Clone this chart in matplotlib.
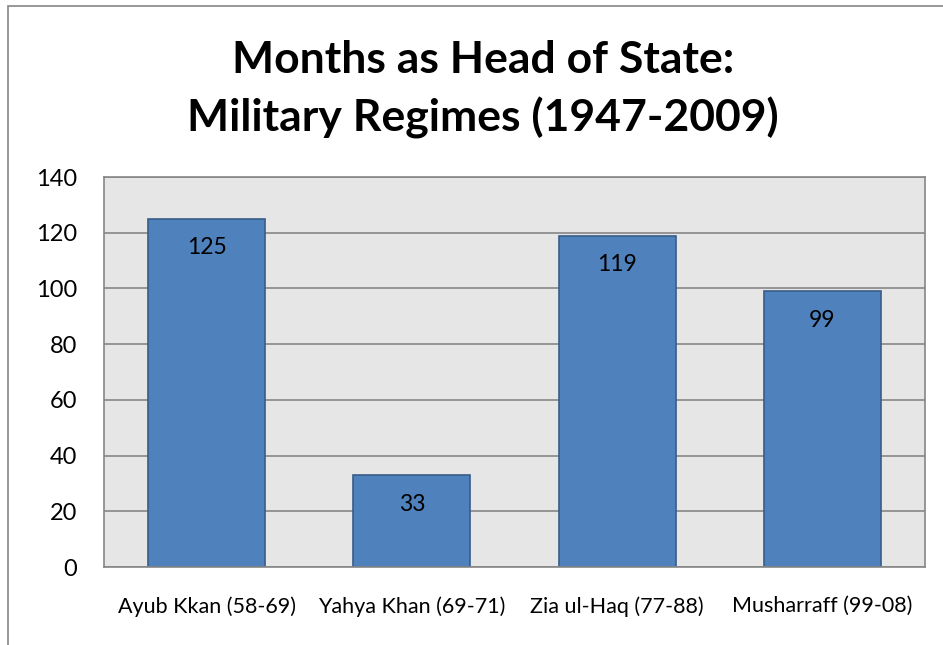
import matplotlib
matplotlib.use("Agg")
import matplotlib.pyplot as plt
from matplotlib.patches import Rectangle

# data
leaders = ["Ayub Kkan (58-69)", "Yahya Khan (69-71)", "Zia ul-Haq (77-88)", "Musharraff (99-08)"]
months = [125, 33, 119, 99]
y_ticks = [0, 20, 40, 60, 80, 100, 120, 140]

plt.rcParams['font.family'] = ['Lato', 'DejaVu Sans']

W, H = 943, 645
fig = plt.figure(figsize=(W / 100, H / 100), dpi=100)

# outer chart border (runs off the right and bottom edge)
fig.patches.append(Rectangle((8 / W, -0.1), 1.2, (H - 6) / H + 0.1, transform=fig.transFigure,
                             fill=False, edgecolor="#868686", linewidth=1.2))

ax = fig.add_axes([104 / W, (H - 567) / H, 821 / W, 390 / H])
ax.set_facecolor("#E6E6E6")
ax.set_ylim(0, 140)
ax.set_xlim(-0.5, len(leaders) - 0.5)
ax.set_yticks(y_ticks)
ax.yaxis.grid(True, color="#868686", linewidth=1.2)
ax.set_axisbelow(True)
for s in ax.spines.values():
    s.set_color("#868686")
    s.set_linewidth(1.2)

x = range(len(leaders))
ax.bar(x, months, width=0.57, color="#4F81BD", edgecolor="#385D8A", linewidth=1.2)
for xi, v in zip(x, months):
    ax.annotate(str(v), (xi, v), xytext=(0, -29), textcoords="offset pixels",
                ha="center", va="center", fontsize=16.5, color="black")

ax.set_xticks(list(x))
ax.set_xticklabels(leaders, fontsize=15.5)
ax.tick_params(axis="x", length=0, pad=21)
ax.tick_params(axis="y", length=0, pad=19.5, labelsize=17)

fig.text(483 / W, 1 - 60 / H, "Months as Head of State:", ha="center", va="center",
         fontsize=32, fontweight="bold")
fig.text(483 / W, 1 - 118 / H, "Military Regimes (1947-2009)", ha="center", va="center",
         fontsize=32, fontweight="bold")

fig.savefig("out.png", dpi=100)
